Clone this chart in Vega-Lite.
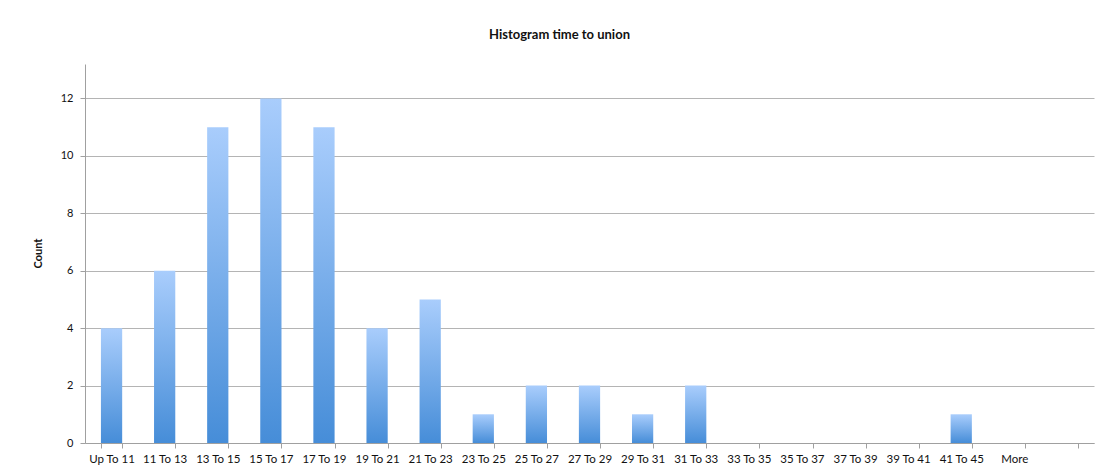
{
  "$schema": "https://vega.github.io/schema/vega-lite/v6.json",
  "width": 1009,
  "height": 379,
  "autosize": {"type": "none"},
  "padding": {"left": 85, "top": 64, "right": 15, "bottom": 29},
  "background": "white",
  "title": {
    "text": "Histogram time to union",
    "font": "Lato",
    "fontSize": 13,
    "fontWeight": "bold",
    "color": "#111111",
    "anchor": "middle",
    "frame": "group",
    "dx": -30,
    "offset": 22
  },
  "data": {
    "values": [
      {"bin": "Up To 11", "count": 4},
      {"bin": "11 To 13", "count": 6},
      {"bin": "13 To 15", "count": 11},
      {"bin": "15 To 17", "count": 12},
      {"bin": "17 To 19", "count": 11},
      {"bin": "19 To 21", "count": 4},
      {"bin": "21 To 23", "count": 5},
      {"bin": "23 To 25", "count": 1},
      {"bin": "25 To 27", "count": 2},
      {"bin": "27 To 29", "count": 2},
      {"bin": "29 To 31", "count": 1},
      {"bin": "31 To 33", "count": 2},
      {"bin": "33 To 35", "count": 0},
      {"bin": "35 To 37", "count": 0},
      {"bin": "37 To 39", "count": 0},
      {"bin": "39 To 41", "count": 0},
      {"bin": "41 To 45", "count": 1},
      {"bin": "More", "count": 0},
      {"bin": " ", "count": 0}
    ]
  },
  "mark": {
    "type": "bar",
    "color": {
      "gradient": "linear",
      "x1": 0, "y1": 0, "x2": 0, "y2": 1,
      "stops": [
        {"offset": 0, "color": "#a9cdfc"},
        {"offset": 1, "color": "#468dd8"}
      ]
    }
  },
  "encoding": {
    "x": {
      "field": "bin",
      "type": "nominal",
      "sort": null,
      "scale": {"paddingInner": 0.6, "paddingOuter": 0.3},
      "axis": {
        "title": null,
        "labelAngle": 0,
        "labelFont": "Lato",
        "labelFontSize": 11.5,
        "labelColor": "#111111",
        "labelPadding": 5,
        "tickBand": "extent",
        "tickSize": 5,
        "tickColor": "#a0a0a0",
        "domainColor": "#a0a0a0",
        "grid": false
      }
    },
    "y": {
      "field": "count",
      "type": "quantitative",
      "scale": {"domain": [0, 13.2], "nice": false},
      "axis": {
        "title": "Count",
        "titleFont": "Lato",
        "titleFontSize": 11,
        "titleFontWeight": "bold",
        "titleColor": "#111111",
        "titleX": -47,
        "titleY": 189,
        "titleAlign": "center",
        "titleBaseline": "middle",
        "values": [0, 2, 4, 6, 8, 10, 12],
        "labelFont": "Lato",
        "labelFontSize": 11,
        "labelColor": "#111111",
        "labelPadding": 7,
        "tickSize": 5,
        "tickColor": "#a0a0a0",
        "domainColor": "#a0a0a0",
        "grid": true,
        "gridColor": "#b4b4b4",
        "gridWidth": 1
      }
    }
  },
  "config": {
    "view": {"stroke": null}
  }
}
